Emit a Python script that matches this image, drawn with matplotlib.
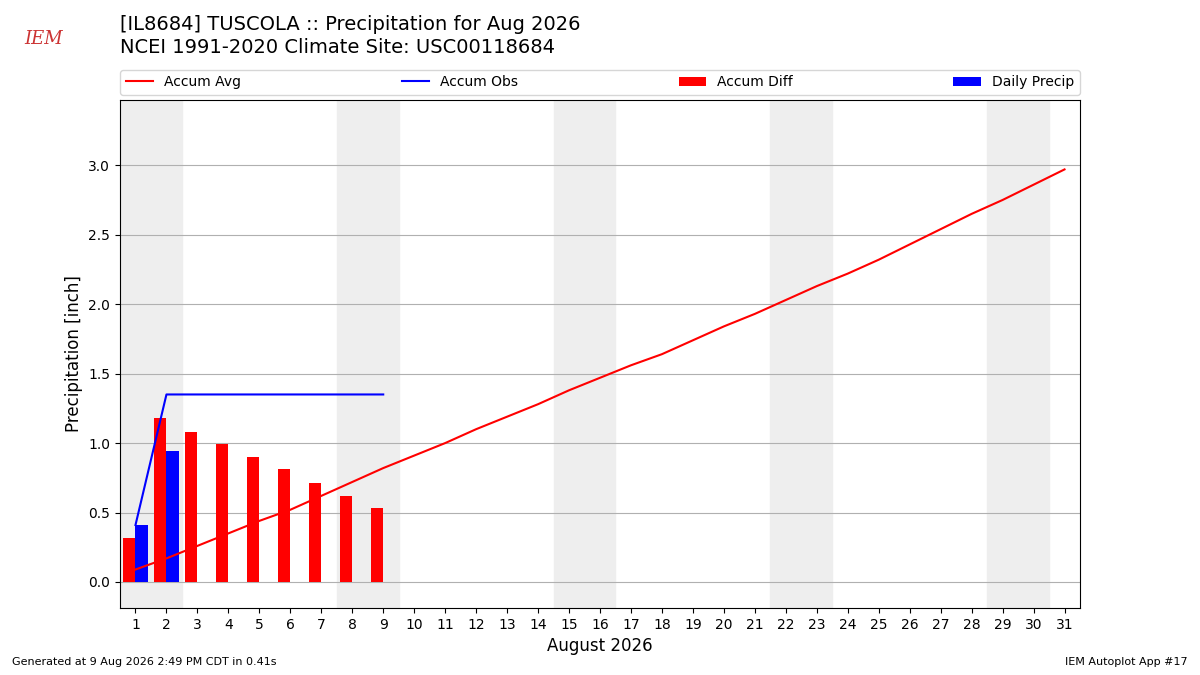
import matplotlib
matplotlib.use("Agg")
import matplotlib.pyplot as plt
import numpy as np

days = np.arange(1, 32)
accum_avg = [0.09, 0.17, 0.26, 0.35, 0.44, 0.52, 0.62, 0.72, 0.82, 0.91, 1.00,
             1.10, 1.19, 1.28, 1.38, 1.47, 1.56, 1.64, 1.74, 1.84, 1.93, 2.03,
             2.13, 2.22, 2.32, 2.43, 2.54, 2.65, 2.75, 2.86, 2.97]
obs_days = np.arange(1, 10)
accum_obs = [0.41, 1.35, 1.35, 1.35, 1.35, 1.35, 1.35, 1.35, 1.35]
accum_diff = [0.32, 1.18, 1.08, 0.99, 0.90, 0.81, 0.71, 0.62, 0.53]
daily_days = [1, 2]
daily_precip = [0.41, 0.94]
weekends = [(0.5, 2.5), (7.5, 9.5), (14.5, 16.5), (21.5, 23.5), (28.5, 30.5)]

fig = plt.figure(figsize=(12, 6.75), dpi=100)
ax = fig.add_axes([0.1, 0.0993, 0.8, 0.7526])

for a, b in weekends:
    ax.axvspan(a, b, color="#eeeeee", zorder=0)

ax.plot(days, accum_avg, color="red", label="Accum Avg", zorder=3)
ax.plot(obs_days, accum_obs, color="blue", label="Accum Obs", zorder=3)
ax.bar(obs_days - 0.2, accum_diff, width=0.4, color="red", label="Accum Diff", zorder=2)
ax.bar(np.array(daily_days) + 0.2, daily_precip, width=0.4, color="blue",
       label="Daily Precip", zorder=2)

ax.set_xlim(0.5, 31.5)
ax.set_ylim(-0.187, 3.47)
ax.set_xticks(days)
ax.set_yticks(np.arange(0, 3.01, 0.5))
ax.grid(axis="y", color="#b0b0b0", zorder=1)
ax.set_axisbelow(True)
ax.set_ylabel("Precipitation [inch]", fontsize=12)
ax.set_xlabel("August 2026", fontsize=12)

ax.legend(loc="lower left", bbox_to_anchor=(0, 1.01, 1, 0.1), ncol=4,
          mode="expand", borderaxespad=0, fontsize=10)

fig.text(0.1, 0.964, "[IL8684] TUSCOLA :: Precipitation for Aug 2026", fontsize=14, va="center")
fig.text(0.1, 0.929, "NCEI 1991-2020 Climate Site: USC00118684", fontsize=14, va="center")
fig.text(0.02, 0.935, "IEM", fontsize=13, color="#cc3333", style="italic", family="serif")
fig.text(0.01, 0.015, "Generated at 9 Aug 2026 2:49 PM CDT in 0.41s", fontsize=8)
fig.text(0.99, 0.015, "IEM Autoplot App #17", fontsize=8, ha="right")

fig.savefig("out.png", dpi=100)
